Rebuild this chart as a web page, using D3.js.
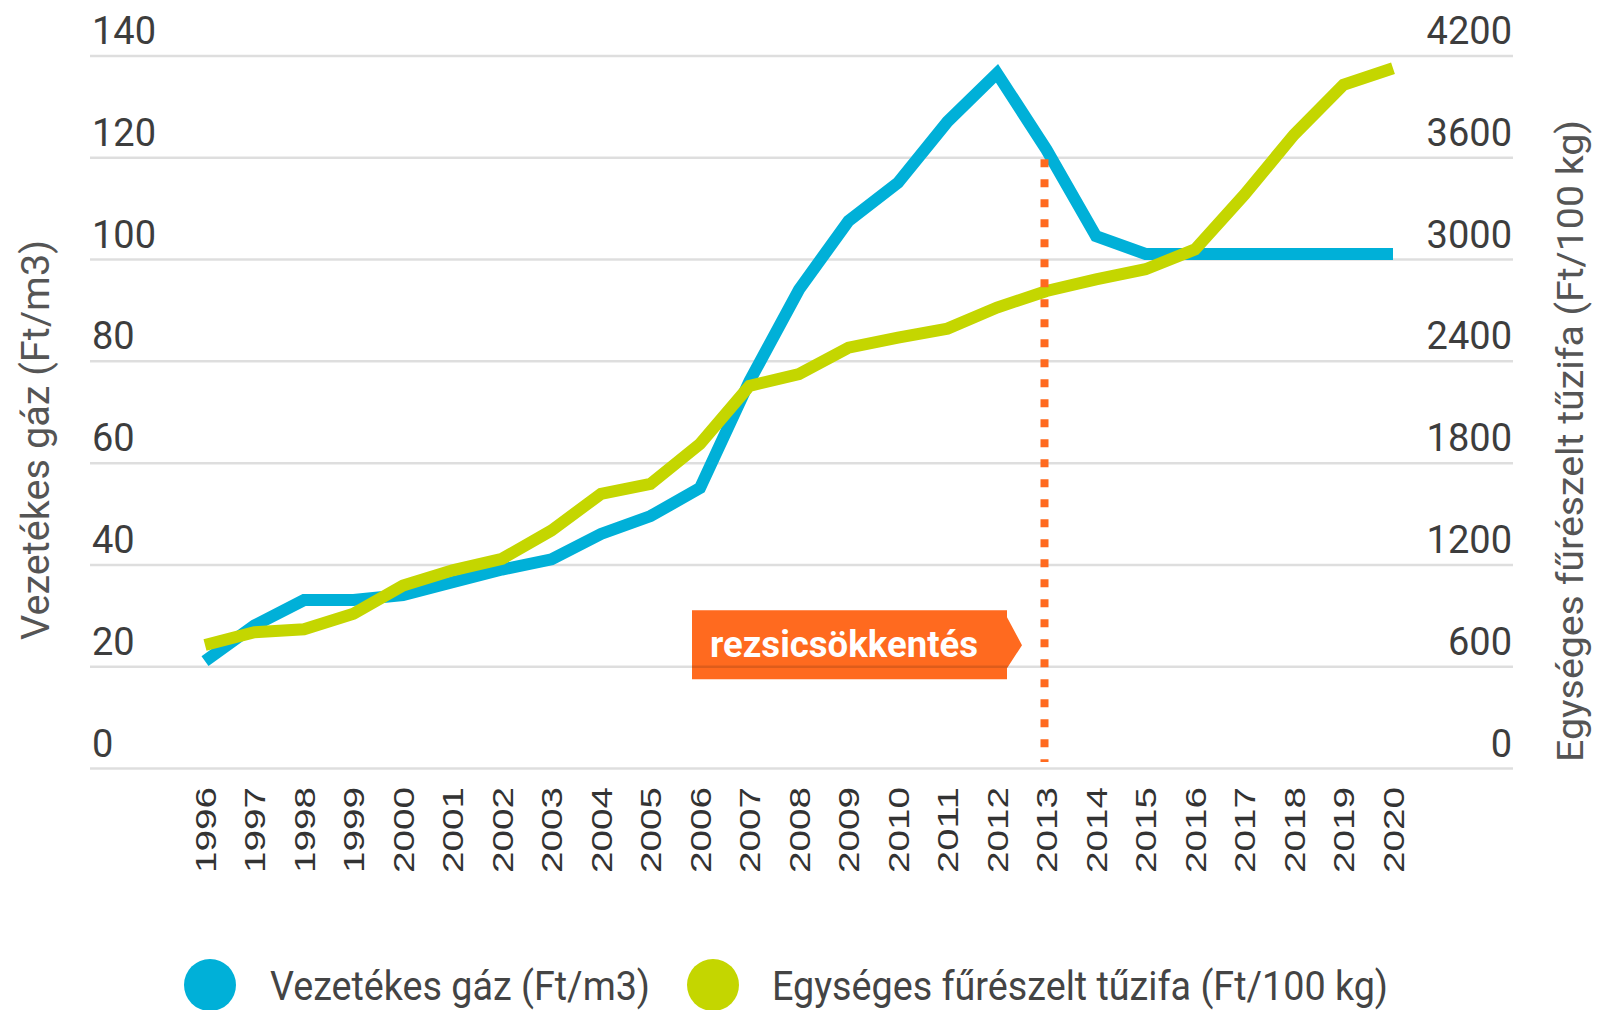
<!DOCTYPE html>
<html>
<head>
<meta charset="utf-8">
<script src="https://cdn.jsdelivr.net/npm/d3@7"></script>
<style>
  body { margin: 0; background: #fff; }
  svg { display: block; font-family: "Roboto", "Noto Sans", sans-serif; }
</style>
</head>
<body>
<div id="vis"></div>
<script>
// data
const YEARS = ["1996","1997","1998","1999","2000","2001","2002","2003","2004","2005","2006","2007",
               "2008","2009","2010","2011","2012","2013","2014","2015","2016","2017","2018","2019","2020"];
// Vezetékes gáz (Ft/m3)
const GAS = [21, 28, 33, 33, 34, 36.5, 39, 41, 46, 49.5, 55, 76, 94, 107.5, 115, 127, 136.5, 121.5, 104.5, 101, 101, 101, 101, 101, 101];
// Egységes fűrészelt tűzifa (Ft/100 kg)
const WOOD = [725, 800, 818, 910, 1076, 1165, 1233, 1400, 1616, 1675, 1910, 2253, 2322, 2478, 2537, 2590,
              2714, 2812, 2880, 2940, 3057, 3380, 3733, 4027, 4125];
const LEFT_TICKS = [0, 20, 40, 60, 80, 100, 120, 140];
const RIGHT_TICKS = [0, 600, 1200, 1800, 2400, 3000, 3600, 4200];
const MARKER_YEAR = "2013";
const MARKER_LABEL = "rezsicsökkentés";
const LEFT_TITLE = "Vezetékes gáz (Ft/m3)";
const RIGHT_TITLE = "Egységes fűrészelt tűzifa (Ft/100 kg)";

// frame
const FRAME_WIDTH = 1598;
const FRAME_HEIGHT = 1010;
const PLOT = {left: 90, right: 1513, top: 55.5, bottom: 768};

const BLUE = "#00b0d8";
const GREEN = "#c4d600";
const ORANGE = "#ff6a1f";

const svg = d3.select("#vis")
              .append("svg")
              .attr("width", FRAME_WIDTH)
              .attr("height", FRAME_HEIGHT);

// scales
const x = d3.scalePoint()
            .domain(YEARS)
            .range([205, 1393]);

const yLeft = d3.scaleLinear()
                .domain([0, 140])
                .range([PLOT.bottom, PLOT.top]);

const yRight = d3.scaleLinear()
                 .domain([0, 4200])
                 .range([PLOT.bottom, PLOT.top]);

// annotation box (drawn under the grid so the grid shows through)
const boxY = yLeft(20);
const ann = svg.append("g");
ann.append("path")
   .attr("d", "M692," + (boxY - 56) + " L1007," + (boxY - 56) + " L1007," + (boxY - 49) +
              " L1022," + (boxY - 21) + " L1007," + (boxY + 2) + " L1007," + (boxY + 13) +
              " L692," + (boxY + 13) + " Z")
   .attr("fill", ORANGE);
ann.append("text")
   .attr("x", 710)
   .attr("y", boxY - 9)
   .attr("fill", "#fff")
   .attr("font-size", "36px")
   .attr("font-weight", "bold")
   .attr("textLength", 268)
   .attr("lengthAdjust", "spacingAndGlyphs")
   .text(MARKER_LABEL);

// left axis + gridlines
const leftAxis = svg.append("g")
   .attr("transform", "translate(" + PLOT.left + ",0)")
   .call(d3.axisLeft(yLeft).tickValues(LEFT_TICKS).tickSize(-(PLOT.right - PLOT.left)).tickFormat(d3.format("d")));
leftAxis.select(".domain").remove();
leftAxis.selectAll(".tick line")
   .attr("stroke", "rgba(0,0,0,0.13)")
   .attr("stroke-width", 2.5);
leftAxis.selectAll(".tick text")
   .attr("x", 2)
   .attr("dy", -12)
   .attr("text-anchor", "start")
   .attr("fill", "#3d3d3d")
   .attr("font-family", "Roboto")
   .attr("font-size", "38px");

// right axis
const rightAxis = svg.append("g")
   .attr("transform", "translate(" + PLOT.right + ",0)")
   .call(d3.axisRight(yRight).tickValues(RIGHT_TICKS).tickSize(0).tickFormat(d3.format("d")));
rightAxis.select(".domain").remove();
rightAxis.selectAll(".tick text")
   .attr("x", -1)
   .attr("dy", -12)
   .attr("text-anchor", "end")
   .attr("fill", "#3d3d3d")
   .attr("font-family", "Roboto")
   .attr("font-size", "38px");

// x axis (years)
const xAxis = svg.append("g")
   .attr("transform", "translate(0," + PLOT.bottom + ")")
   .call(d3.axisBottom(x).tickSize(0));
xAxis.select(".domain").remove();
xAxis.selectAll(".tick text")
   .attr("transform", "rotate(-90)")
   .attr("x", -19)
   .attr("y", 0)
   .attr("dy", "0.36em")
   .attr("text-anchor", "end")
   .attr("fill", "#333")
   .attr("font-family", "'Liberation Sans', Arial, sans-serif")
   .attr("font-size", "29px")
   .attr("textLength", 86)
   .attr("lengthAdjust", "spacingAndGlyphs");

// axis titles
svg.append("text")
   .attr("transform", "translate(49,440) rotate(-90)")
   .attr("text-anchor", "middle")
   .attr("fill", "#555")
   .attr("font-family", "Roboto")
   .attr("font-size", "38px")
   .attr("textLength", 400)
   .attr("lengthAdjust", "spacingAndGlyphs")
   .text(LEFT_TITLE);

svg.append("text")
   .attr("transform", "translate(1583,441) rotate(-90)")
   .attr("text-anchor", "middle")
   .attr("fill", "#555")
   .attr("font-family", "Roboto")
   .attr("font-size", "36px")
   .attr("textLength", 642)
   .attr("lengthAdjust", "spacingAndGlyphs")
   .text(RIGHT_TITLE);

// lines
const gasLine = d3.line()
                  .x((d, i) => x(YEARS[i]))
                  .y(d => yLeft(d));
const woodLine = d3.line()
                   .x((d, i) => x(YEARS[i]))
                   .y(d => yRight(d));

svg.append("path")
   .datum(GAS)
   .attr("d", gasLine)
   .attr("fill", "none")
   .attr("stroke", BLUE)
   .attr("stroke-width", 12)
   .attr("stroke-linejoin", "miter");

svg.append("path")
   .datum(WOOD)
   .attr("d", woodLine)
   .attr("fill", "none")
   .attr("stroke", GREEN)
   .attr("stroke-width", 12)
   .attr("stroke-linejoin", "miter");

// dotted marker line
svg.append("line")
   .attr("x1", x(MARKER_YEAR) - 2)
   .attr("x2", x(MARKER_YEAR) - 2)
   .attr("y1", yLeft(120) + 2)
   .attr("y2", PLOT.bottom - 6)
   .attr("stroke", ORANGE)
   .attr("stroke-width", 8)
   .attr("stroke-dasharray", "8,12");

// legend
const legend = [
  {label: LEFT_TITLE, color: BLUE, cx: 210, tx: 270, w: 380},
  {label: RIGHT_TITLE, color: GREEN, cx: 713, tx: 772, w: 616}
];
const lg = svg.append("g");
lg.selectAll("circle")
  .data(legend)
  .enter()
  .append("circle")
  .attr("cx", d => d.cx)
  .attr("cy", 985)
  .attr("r", 26)
  .attr("fill", d => d.color);
lg.selectAll("text")
  .data(legend)
  .enter()
  .append("text")
  .attr("x", d => d.tx)
  .attr("y", 1000)
  .attr("fill", "#444")
  .attr("font-family", "Roboto")
  .attr("font-size", "40px")
  .attr("textLength", d => d.w)
  .attr("lengthAdjust", "spacingAndGlyphs")
  .text(d => d.label);
</script>
</body>
</html>
